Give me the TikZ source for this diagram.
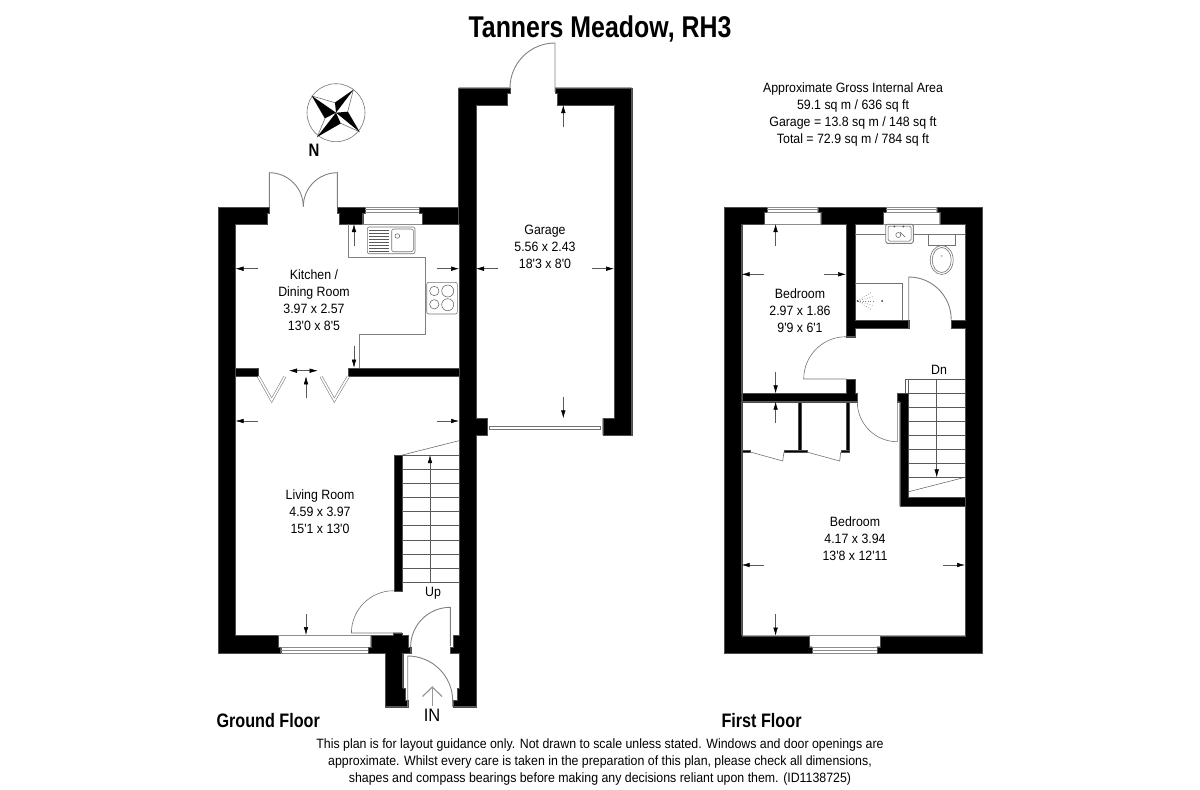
\documentclass[tikz,border=0pt]{standalone}
\usepackage{fontspec}
\setmainfont{Liberation Sans}
\newfontfamily\narrowfont[FakeStretch=0.83]{Liberation Sans}
\newfontfamily\roomfont[FakeStretch=0.915]{Liberation Sans}
\usetikzlibrary{arrows.meta}

\begin{document}
\begin{tikzpicture}[
    x=1pt, y=-1pt,
    wall/.style={fill=black, draw=black!70, line width=0.2pt},
    plan/.style={draw=black!50, line width=0.9pt},
    fine/.style={draw=black!55, line width=0.6pt},
    stair/.style={draw=black!65, line width=0.5pt},
    glass/.style={draw=black!45, line width=0.7pt},
    folddoor/.style={draw=black!50, line width=0.6pt, double=white, double distance=1.6pt},
    dimarrow/.style={draw=black!65, line width=0.5pt, -{Latex[black, length=8pt, width=4.5pt]}},
    roomlabel/.style={align=center, font=\roomfont\fontsize{13.5}{17}\selectfont},
    floorlabel/.style={anchor=west, font=\narrowfont\fontsize{19.5}{22}\selectfont\bfseries},
    ]
    \useasboundingbox (0,0) rectangle (1200,790);

    %Compass
    \draw[fine] (336,112.7) circle[radius=29];
    \draw[fine, fill=white] (312,96) -- (335,102.7) -- (353.3,90) -- (347.7,111.7) -- (359.3,131.7) -- (340.7,123.3) -- (317.3,136.7) -- (325,118.3) -- cycle;
    \fill[black] (312,96) -- (336,112.7) -- (325,118.3) -- cycle;
    \fill[black] (353.3,90) -- (336,112.7) -- (335,102.7) -- cycle;
    \fill[black] (359.3,131.7) -- (336,112.7) -- (347.7,111.7) -- cycle;
    \fill[black] (317.3,136.7) -- (336,112.7) -- (340.7,123.3) -- cycle;

    %Ground floor walls
    \fill[wall] (218.5,207) -- (269,207) -- (269,213) -- (267,213) -- (267,224) -- (235.5,224) -- (235.5,635) -- (278,635) -- (278,647) -- (280.7,647) -- (280.7,653) -- (218.5,653) -- cycle;
    \fill[wall] (337.3,207) -- (365.3,207) -- (365.3,213) -- (362.7,213) -- (362.7,224) -- (339.3,224) -- (339.3,213) -- (337.3,213) -- cycle;
    \fill[wall] (419.3,207) -- (459,207) -- (459,224) -- (422,224) -- (422,213) -- (419.3,213) -- cycle;
    \fill[wall] (458.5,87.7) -- (510,87.7) -- (510,93.3) -- (507.3,93.3) -- (507.3,105) -- (476,105) -- (476,418.3) -- (487.3,418.3) -- (487.3,435) -- (476,435) -- (476,706.7) -- (452.7,706.7) -- (452.7,700) -- (457,700) -- (457,688.3) -- (459,688.3) -- (459,653) -- (450,653) -- (450,647) -- (453,647) -- (453,635) -- (459,635) -- (459,224) -- (458.5,224) -- cycle;
    \fill[wall] (555,87.7) -- (631.7,87.7) -- (631.7,435) -- (602.7,435) -- (602.7,418.3) -- (614,418.3) -- (614,105) -- (557.3,105) -- (557.3,93.3) -- (555,93.3) -- cycle;
    \fill[wall] (235.5,367.7) rectangle (258.3,376.3);
    \fill[wall] (348.3,367.7) rectangle (459,376.3);
    \fill[wall] (393.7,455) rectangle (402.3,590.7);
    \fill[wall] (370.7,635) -- (393,635) -- (393,632.7) -- (402,632.7) -- (402,635) -- (408,635) -- (408,647) -- (410.7,647) -- (410.7,653) -- (402.7,653) -- (402.7,688.3) -- (405,688.3) -- (405,700) -- (407.7,700) -- (407.7,706.7) -- (385,706.7) -- (385,653) -- (368,653) -- (368,647) -- (370.7,647) -- cycle;

    %First floor walls
    \fill[wall] (724.3,207) -- (767.3,207) -- (767.3,212.3) -- (764.3,212.3) -- (764.3,224) -- (741.7,224) -- (741.7,635.7) -- (809.3,635.7) -- (809.3,646.7) -- (812.3,646.7) -- (812.3,653.3) -- (724.3,653.3) -- cycle;
    \fill[wall] (817.7,207) -- (886,207) -- (886,212.3) -- (883,212.3) -- (883,224) -- (855,224) -- (855,320) -- (908.7,320) -- (908.7,328.3) -- (855,328.3) -- (855,336.7) -- (846,336.7) -- (846,224) -- (820.7,224) -- (820.7,212.3) -- (817.7,212.3) -- cycle;
    \fill[wall] (936.7,207) -- (982.3,207) -- (982.3,653.3) -- (877,653.3) -- (877,646.7) -- (880,646.7) -- (880,635.7) -- (965,635.7) -- (965,328.3) -- (951,328.3) -- (951,320) -- (965,320) -- (965,224) -- (939.7,224) -- (939.7,212.3) -- (936.7,212.3) -- cycle;
    \fill[wall] (741.7,393.3) -- (846,393.3) -- (846,379) -- (855,379) -- (855,393.3) -- (857.3,393.3) -- (857.3,401.7) -- (741.7,401.7) -- cycle;
    \fill[wall] (897,393.3) -- (908.3,393.3) -- (908.3,497) -- (965,497) -- (965,506) -- (899.7,506) -- (899.7,401.7) -- (897,401.7) -- cycle;
    \fill[wall] (797.7,401.7) rectangle (801,450);
    \fill[wall] (846,401.7) rectangle (849,452);
    \fill[wall] (741.7,450) rectangle (750.3,452);
    \fill[wall] (784,450) rectangle (806.7,452);
    \fill[wall] (840.7,450) rectangle (849,452);

    %Windows
    \foreach \xa/\xb in {365.3/419.3, 767.3/817.7, 886/936.7}{
        \draw[glass] (\xa,207) -- (\xb,207);
        \draw[glass] (\xa,209.5) -- (\xb,209.5);
        \draw[glass] (\xa,212.5) -- (\xb,212.5);
        \draw[glass] (\xa-3,224) -- (\xb+3,224);
    }
    \foreach \xa/\xb in {280.7/368, 812.3/877}{
        \draw[glass] (\xa,653) -- (\xb,653);
        \draw[glass] (\xa,650.5) -- (\xb,650.5);
        \draw[glass] (\xa,647) -- (\xb,647);
        \draw[glass] (\xa-3,635.3) -- (\xb+3,635.3);
    }
    \draw[fine, fill=white] (489.3,426.3) rectangle (600.7,429.7);

    %Doors
    \draw[plan] (555,92) -- (555,43) arc[start angle=270, end angle=180, radius=45];
    \draw[plan] (269.3,207) -- (269.3,172.7) arc[start angle=270, end angle=360, radius=34];
    \draw[plan] (337.3,207) -- (337.3,172.7) arc[start angle=270, end angle=180, radius=34];
    \draw[fine] (393.7,590.7) arc[start angle=270, end angle=180, radius=42.3] -- (393,633);
    \draw[plan] (450.3,646) -- (450.3,607.3) arc[start angle=270, end angle=180, radius=39.7];
    \draw[plan] (407.7,706.7) -- (407.7,656) arc[start angle=270, end angle=360, radius=45] -- (452.7,706.7);
    \draw[fine] (857.3,401.7) arc[start angle=180, end angle=90, radius=40] -- (897.3,401.7);
    \draw[fine] (846,336.7) arc[start angle=270, end angle=180, radius=42.3] -- (846,379);
    \draw[plan] (908.7,320) -- (908.7,277) arc[start angle=270, end angle=360, radius=42.5];
    \draw[folddoor] (258.3,376.5) -- (271.7,400.2) -- (285,376.5);
    \draw[folddoor] (321,376.5) -- (334.3,400.2) -- (348.3,376.5);
    \draw[fine] (750.3,452) -- (782.7,461) -- (784,452);
    \draw[fine] (806.7,452) -- (839.7,461) -- (840.7,452);

    %Stairs
    \foreach \ty in {455,469,483,497.3,511.7,525.7,540,554,568.3,582.7}{
        \draw[stair] (402.3,\ty) -- (459,\ty);
    }
    \draw[stair] (402.3,455) -- (459,440.7);
    \foreach \ty in {379,393.3,407.3,421.3,435.3,449.3,463.3,477.3}{
        \draw[stair] (908.7,\ty) -- (965,\ty);
    }
    \draw[stair] (905.7,379) -- (905.7,393.3);
    \draw[stair] (908.7,379) -- (908.7,393.3);
    \draw[stair] (908.7,491.7) -- (965,477.3);
    \draw[stair] (905.7,379) -- (908.7,379);
    \draw[dimarrow] (430,582.7) -- (430,455);
    \draw[dimarrow] (936.7,379) -- (936.7,477.3);

    %Kitchen fittings
    \draw[plan] (348.3,224) -- (348.3,257.3) -- (425,257.3) -- (425,334) -- (359.3,334) -- (359.3,367.7);
    \draw[fine, rounded corners=2pt] (367.3,227) rectangle (415,253.7);
    \draw[fine, rounded corners=2pt] (391.7,229) rectangle (413.3,251.7);
    \foreach \ty in {230,233,236,239,242,245,248,251}{
        \draw[stair] (369.3,\ty) -- (389.3,\ty);
    }
    \draw[stair] (397.3,236) circle[radius=2.3];
    \draw[fine, rounded corners=2pt] (426.7,282.3) rectangle (457.3,314);
    \draw[stair] (434.3,291) circle[radius=4.7];
    \draw[stair] (434.3,304.3) circle[radius=4.7];
    \draw[stair] (447.7,291) circle[radius=6];
    \draw[stair] (447.7,304.7) circle[radius=6];

    %Bathroom fittings
    \draw[fine] (855,234.5) -- (885.7,234.5);
    \draw[fine] (913.3,234.5) -- (965,234.5);
    \draw[plan, rounded corners=1.5pt] (885.7,224.3) rectangle (913.3,243.3);
    \draw[stair, rounded corners=1.5pt] (888,226) rectangle (911,241);
    \draw[stair] (898.3,235) circle[radius=2.5];
    \draw[stair] (900,232) -- (905,237);
    \fill[black!70] (894.3,226.5) circle[radius=1];
    \fill[black!70] (903.3,226.5) circle[radius=1];
    \draw[fine, fill=white] (928.3,234.5) rectangle (955.7,245.7);
    \draw[fine] (941.7,260) ellipse[x radius=11.5, y radius=14.5];
    \draw[fine] (941.7,260) ellipse[x radius=9.5, y radius=12.5];
    \fill[black!70] (941.7,256) circle[radius=0.6];
    \draw[fine] (855,283) -- (902.7,283) -- (902.7,320);
    \foreach \ang in {-32,-16,0,16,32}{
        \draw[black!50, line width=0.5pt, dash pattern=on 0.8pt off 1.7pt] (857.5,301) -- ++(\ang:16);
    }
    \fill[black!80] (857.5,301) circle[radius=0.9];
    \fill[black!80] (882,301) circle[radius=1];

    %Arrows
    \draw[dimarrow] (258,268.7) -- (235.5,268.7);
    \draw[dimarrow] (436.5,268.7) -- (459,268.7);
    \draw[dimarrow] (354,245.7) -- (354,224);
    \draw[dimarrow] (354,345.7) -- (354,367.7);
    \draw[dimarrow] (258,421) -- (235.5,421);
    \draw[dimarrow] (436.5,421) -- (459,421);
    \draw[dimarrow] (306,398.3) -- (306,376.3);
    \draw[dimarrow] (306,614) -- (306,635);
    \draw[dimarrow] (303.3,370.7) -- (289,370.7);
    \draw[dimarrow] (303.3,370.7) -- (317.7,370.7);
    \draw[dimarrow] (498,268.7) -- (476,268.7);
    \draw[dimarrow] (592,268.7) -- (614,268.7);
    \draw[dimarrow] (563.3,127) -- (563.3,105);
    \draw[dimarrow] (563.3,396.7) -- (563.3,418.3);
    \draw[dimarrow] (775.6,245.7) -- (775.6,224);
    \draw[dimarrow] (775.6,371.7) -- (775.6,393.3);
    \draw[dimarrow] (763.7,274.3) -- (741.7,274.3);
    \draw[dimarrow] (823.7,274.3) -- (846,274.3);
    \draw[dimarrow] (775.6,423) -- (775.6,401.7);
    \draw[dimarrow] (763.7,565) -- (741.7,565);
    \draw[dimarrow] (943,565) -- (965,565);
    \draw[dimarrow] (775.6,614) -- (775.6,635.7);
    \draw[black!40, line width=1.2pt] (432.3,706) -- (432.3,688);
    \draw[black!40, line width=1.2pt] (422.5,696.5) -- (432.3,687) -- (442,696.5);

    %Labels
    \node[font=\narrowfont\fontsize{30}{32}\selectfont\bfseries] (title) at (600,29) {Tanners Meadow, RH3};
    \node[roomlabel] (area) at (853,115) {Approximate Gross Internal Area\\59.1 sq m / 636 sq ft\\Garage = 13.8 sq m / 148 sq ft\\Total = 72.9 sq m / 784 sq ft};
    \node[roomlabel] (kitchen) at (314,300.5) {Kitchen /\\Dining Room\\3.97 x 2.57\\13'0 x 8'5};
    \node[roomlabel] (garage) at (545,247) {Garage\\5.56 x 2.43\\18'3 x 8'0};
    \node[roomlabel] (living) at (320,512) {Living Room\\4.59 x 3.97\\15'1 x 13'0};
    \node[roomlabel] (bedone) at (800,311) {Bedroom\\2.97 x 1.86\\9'9 x 6'1};
    \node[roomlabel] (bedtwo) at (855,539) {Bedroom\\4.17 x 3.94\\13'8 x 12'11};
    \node[roomlabel] (up) at (433,593) {Up};
    \node[roomlabel] (dn) at (939,370) {Dn};
    \node[font=\narrowfont\bfseries\fontsize{18}{20}\selectfont] (north) at (314,150) {N};
    \node[font=\roomfont\fontsize{18}{20}\selectfont] (inlabel) at (432,715) {IN};
    \node[floorlabel] (ground) at (213,721) {Ground Floor};
    \node[floorlabel] (first) at (718,721) {First Floor};
    \node[roomlabel] (note) at (600,762) {This plan is for layout guidance only. Not drawn to scale unless stated. Windows and door openings are\\approximate. Whilst every care is taken in the preparation of this plan, please check all dimensions,\\shapes and compass bearings before making any decisions reliant upon them. (ID1138725)};
\end{tikzpicture}
\end{document}
